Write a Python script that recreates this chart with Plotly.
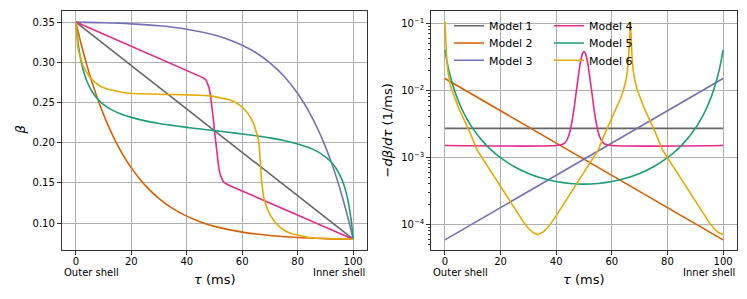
import plotly.graph_objects as go

# ---------------- data ----------------
tau_m1 = [0, 100]
beta_m1 = [0.35, 0.08]
dbeta_m1 = [0.0027, 0.0027]

tau_m2 = [0, 2, 4, 6, 8, 10, 13, 16, 20, 25, 30, 35, 40, 45, 50, 60, 70, 80, 90, 100]
beta_m2 = [0.350, 0.3216, 0.2962, 0.2734, 0.2531, 0.2349, 0.2111, 0.1909, 0.1687, 0.1470,
           0.1306, 0.1181, 0.1087, 0.1015, 0.0960, 0.0888, 0.0846, 0.0822, 0.0808, 0.080]
tau_m2_d = [0, 100]
dbeta_m2 = [0.0150, 0.0000585]

tau_m3 = [0, 10, 20, 30, 40, 50, 55, 60, 65, 70, 75, 80, 84, 87, 90, 92, 94, 96, 98, 100]
beta_m3 = [0.350, 0.3492, 0.3478, 0.3454, 0.3412, 0.3340, 0.3285, 0.3213, 0.3119, 0.2994,
           0.2830, 0.2613, 0.2391, 0.2189, 0.1951, 0.1769, 0.1566, 0.1338, 0.1084, 0.080]
tau_m3_d = [0, 100]
dbeta_m3 = [0.0000585, 0.0150]

tau_m4 = [0, 44, 45, 46, 47, 48, 48.5, 49, 49.5, 50, 50.5, 51, 51.5, 52, 53, 54, 55, 56, 100]
beta_m4 = [0.350, 0.284, 0.2825, 0.2807, 0.2776, 0.2688, 0.2602, 0.2480, 0.2325, 0.215,
           0.1975, 0.1820, 0.1698, 0.1612, 0.1524, 0.1493, 0.1475, 0.146, 0.080]
tau_m4_d = [0, 40, 42, 43, 44, 45, 46, 46.5, 47, 47.5, 48, 48.5, 49, 49.5, 50,
            50.5, 51, 51.5, 52, 52.5, 53, 53.5, 54, 55, 56, 57, 58, 60, 100]
dbeta_m4 = [0.0015, 0.0015, 0.00155, 0.00163, 0.00186, 0.00247, 0.0041, 0.0056, 0.0081,
            0.0117, 0.0167, 0.0232, 0.0301, 0.0356, 0.0378, 0.0356, 0.0301, 0.0232, 0.0167,
            0.0117, 0.0081, 0.0056, 0.0041, 0.00247, 0.00186, 0.00163, 0.00155, 0.0015, 0.0015]

tau_m5 = [0, 0.5, 1, 1.5, 2, 3, 4, 6, 8, 10, 13, 16, 20, 25, 30, 35, 40, 45, 50,
          55, 60, 65, 70, 75, 80, 84, 87, 90, 92, 94, 96, 97, 98, 98.5, 99, 99.5, 100]
beta_m5 = [0.350, 0.3323, 0.319, 0.3082, 0.2995, 0.2860, 0.2762, 0.2627, 0.2537, 0.2475,
           0.2408, 0.2360, 0.2315, 0.2272, 0.2240, 0.2214, 0.2191, 0.2170, 0.215,
           0.2130, 0.2109, 0.2086, 0.2060, 0.2028, 0.1985, 0.1940, 0.1892, 0.1825, 0.1763,
           0.1673, 0.1538, 0.1440, 0.1305, 0.1218, 0.1110, 0.0977, 0.080]
dbeta_m5 = [0.0401, 0.0305, 0.0240, 0.01934, 0.01596, 0.01138, 0.00854, 0.00535, 0.00368,
            0.00270, 0.001852, 0.001362, 0.000985, 0.000722, 0.000574, 0.000486, 0.000434,
            0.000406, 0.000397, 0.000406, 0.000434, 0.000486, 0.000574, 0.000722, 0.000985,
            0.001362, 0.001852, 0.00270, 0.00368, 0.00535, 0.00854, 0.01138, 0.01596,
            0.01934, 0.0240, 0.0305, 0.0401]

tau_m6 = [0, 0.25, 0.6, 1.0, 1.6, 2.5, 3.5, 5, 7, 9, 11.5, 14, 17, 20, 25, 29, 33.33,
          37.67, 41.67, 46.67, 49.67, 52.67, 55.17, 57.67, 59.67, 61.67, 63.17, 64.17,
          65.07, 65.67, 66.07, 66.42, 66.67,
          66.92, 67.27, 67.67, 68.27, 69.17, 70.17, 71.67, 73.67, 75.67, 78.17, 80.67,
          83.67, 86.67, 91.67, 95.67, 100]
beta_m6 = [0.350, 0.334, 0.3219, 0.3135, 0.3055, 0.2966, 0.2896, 0.2817, 0.2747, 0.2700,
           0.2664, 0.2642, 0.2624, 0.2613, 0.2606, 0.2602, 0.2600,
           0.2598, 0.2594, 0.2587, 0.2576, 0.2558, 0.2536, 0.2500, 0.2453, 0.2383, 0.2304,
           0.2234, 0.2145, 0.2065, 0.1981, 0.186, 0.170,
           0.154, 0.1419, 0.1335, 0.1255, 0.1166, 0.1096, 0.1017, 0.0947, 0.0900, 0.0864,
           0.0842, 0.0824, 0.0813, 0.0806, 0.0802, 0.080]
tau_m6_d = [0, 0.25, 0.6, 1.0, 1.6, 2.5, 3.5, 5, 7, 9, 11.5, 14, 17, 20, 23, 26, 28.5, 30,
            31.5, 33.33,
            35.17, 36.67, 38.17, 40.67, 43.67, 46.67, 49.67, 52.67, 55.17, 57.67, 59.67,
            61.67, 63.17, 64.17, 65.07, 65.67, 66.07, 66.42, 66.67,
            66.92, 67.27, 67.67, 68.27, 69.17, 70.17, 71.67, 73.67, 75.67, 78.17, 80.67,
            83.67, 86.67, 89.67, 92.67, 95.17, 96.67, 98.17, 100]
dbeta_m6 = [0.1059, 0.0562, 0.0316, 0.0200, 0.0141, 0.0100, 0.00759, 0.00537, 0.00355,
            0.00234, 0.00130, 0.000891, 0.000569, 0.000363, 0.000232, 0.000148, 0.000104,
            0.0000871, 0.0000759, 0.0000700,
            0.0000759, 0.0000871, 0.000104, 0.000148, 0.000232, 0.000363, 0.000569,
            0.000891, 0.00130, 0.00234, 0.00355, 0.00537, 0.00759, 0.0100, 0.0141, 0.0200,
            0.0316, 0.0562, 0.1059,
            0.0562, 0.0316, 0.0200, 0.0141, 0.0100, 0.00759, 0.00537, 0.00355, 0.00234,
            0.00130, 0.000891, 0.000569, 0.000363, 0.000232, 0.000148, 0.000104, 0.0000871,
            0.0000759, 0.0000700]

names = ["Model 1", "Model 2", "Model 3", "Model 4", "Model 5", "Model 6"]
colors = ["#666666", "#d95f02", "#7570b3", "#e7298a", "#1b9e77", "#e6ab02"]

x_ticks = [0, 20, 40, 60, 80, 100]

# ---------------- figure ----------------
# the page body has an 8px default margin, so the figure is drawn 8px smaller
OFF = 8
W, H = 747 - OFF, 299 - OFF
ML, MT = 62 - OFF, 11 - OFF
MR = W - (737 - OFF)
MB = H - (250 - OFF)
PW, PH = W - ML - MR, H - MT - MB


def px(x):  # page pixel -> paper fraction
    return (x - OFF - ML) / PW


def py(y):
    return (H - MB - (y - OFF)) / PH


fig = go.Figure()

left_series = [
    (tau_m1, beta_m1, "linear"),
    (tau_m2, beta_m2, "spline"),
    (tau_m3, beta_m3, "spline"),
    (tau_m4, beta_m4, "linear"),
    (tau_m5, beta_m5, "spline"),
    (tau_m6, beta_m6, "linear"),
]
right_series = [
    (tau_m1, dbeta_m1, "linear", "legend"),
    (tau_m2_d, dbeta_m2, "linear", "legend2"),
    (tau_m3_d, dbeta_m3, "linear", "legend3"),
    (tau_m4_d, dbeta_m4, "spline", "legend"),
    (tau_m5, dbeta_m5, "spline", "legend2"),
    (tau_m6_d, dbeta_m6, "linear", "legend3"),
]

for i, (xs, ys, shp) in enumerate(left_series):
    fig.add_trace(go.Scatter(x=xs, y=ys, mode="lines", name=names[i], showlegend=False,
                             line=dict(color=colors[i], width=1.6, shape=shp),
                             xaxis="x", yaxis="y"))
for i, (xs, ys, shp, lg) in enumerate(right_series):
    fig.add_trace(go.Scatter(x=xs, y=ys, mode="lines", name=names[i], legend=lg,
                             line=dict(color=colors[i], width=1.6, shape=shp),
                             xaxis="x2", yaxis="y2"))

axis_common = dict(showline=True, linecolor="#333333", linewidth=1.3, mirror=True,
                   ticks="outside", ticklen=4, tickwidth=1, tickcolor="#333333",
                   showgrid=True, gridcolor="#b0b0b0", gridwidth=0.8, zeroline=False,
                   tickfont=dict(size=10, color="black"), automargin=False)

fig.update_layout(
    width=W, height=H,
    margin=dict(l=ML, r=MR, t=MT, b=MB, pad=0),
    paper_bgcolor="white", plot_bgcolor="white",
    font=dict(family="DejaVu Sans", color="black"),
    xaxis=dict(domain=[0, px(367)], range=[-5, 105], tickvals=x_ticks, anchor="y",
               ticklabelstandoff=-2, **axis_common),
    yaxis=dict(domain=[0, 1], range=[0.0666, 0.3638], tick0=0.10, dtick=0.05,
               tickformat=".2f", anchor="x", **axis_common),
    xaxis2=dict(domain=[px(431), 1], range=[-5, 105], tickvals=x_ticks, anchor="y2",
                ticklabelstandoff=-2, **axis_common),
    yaxis2=dict(domain=[0, 1], type="log", range=[-4.384, -0.816], dtick=1,
                exponentformat="power", anchor="x2",
                minor=dict(ticks="outside", ticklen=2, tickcolor="#333333", showgrid=False,
                           dtick="D1"),
                **{**axis_common, "tickfont": dict(size=8, color="black")}),
)

legend_common = dict(orientation="h", xanchor="left", yanchor="middle",
                     bgcolor="rgba(0,0,0,0)", borderwidth=0, entrywidth=55,
                     entrywidthmode="pixels", font=dict(size=11, color="black"),
                     itemwidth=30)
fig.update_layout(
    legend=dict(x=px(449), y=py(25.7), **legend_common),
    legend2=dict(x=px(449), y=py(43.0), **legend_common),
    legend3=dict(x=px(449), y=py(60.3), **legend_common),
)

ann = []
for xl, xr, xc in [(62, 367, 214.5), (431, 737, 584)]:
    ann.append(dict(text="Outer shell", x=px(xl), y=py(272), xanchor="left",
                    yanchor="middle", font=dict(size=10)))
    ann.append(dict(text="Inner shell", x=px(xr), y=py(272), xanchor="right",
                    yanchor="middle", font=dict(size=10)))
    ann.append(dict(text="<i>τ</i> (ms)", x=px(xc), y=py(279), xanchor="center",
                    yanchor="middle", font=dict(size=13)))
ann.append(dict(text="<i>β</i>", x=px(20), y=py(130.5), xanchor="center",
                yanchor="middle", textangle=-90, font=dict(size=13)))
ann.append(dict(text="−<i>dβ</i>/<i>dτ</i> (1/ms)", x=px(387), y=py(130.5),
                xanchor="center", yanchor="middle", textangle=-90, font=dict(size=13)))
for a in ann:
    a.update(xref="paper", yref="paper", showarrow=False)
fig.update_layout(annotations=ann)

fig.write_html("out.html")
